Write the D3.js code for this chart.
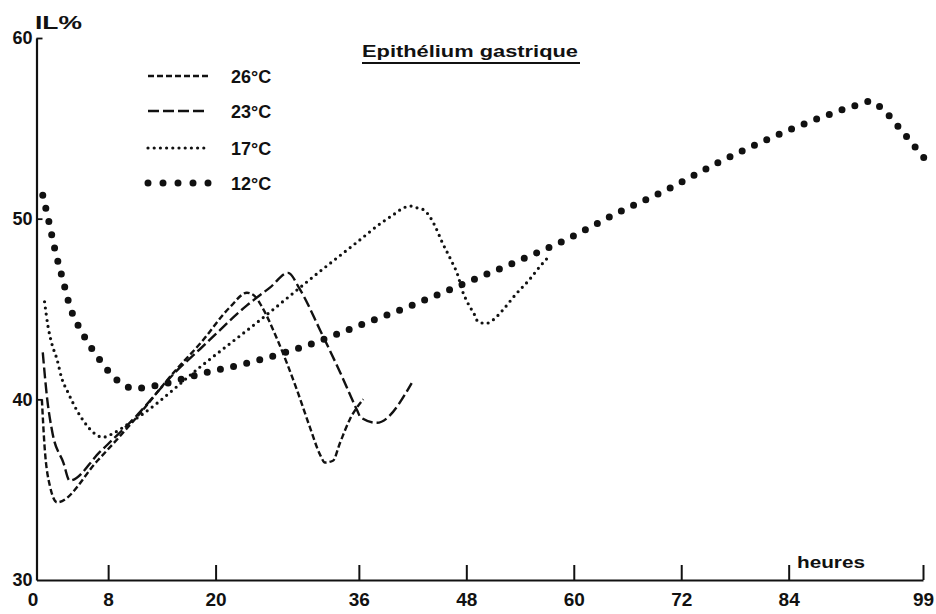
<!DOCTYPE html>
<html><head><meta charset="utf-8">
<script src="https://cdn.jsdelivr.net/npm/d3@7"></script>
<style>
html,body{margin:0;padding:0;background:#fff;}
svg{display:block;font-family:"Liberation Sans",Arial,sans-serif;}
</style></head>
<body>
<svg id="c" width="936" height="614"></svg>
<script>
// ---- data (heures, IL %) ----
const xTicks = [0, 8, 20, 36, 48, 60, 72, 84, 99];
const yTicks = [30, 40, 50, 60];
const seriesNames = ["26°C", "23°C", "17°C", "12°C"];

const h26 = [0.6,0.9,1.5,2.3,6.8,11.0,15.7,18.3,21.6,23.5,24.4,25.2,26.9,29.1,30.5,31.7,32.2,33.1,33.9,35.0,36.5];
const v26 = [40.0,37.4,35.2,34.3,36.6,38.9,41.7,43.1,45.1,45.9,45.7,45.1,43.3,40.5,38.5,36.9,36.5,36.6,37.6,38.9,40.0];

const h23 = [0.7,1.2,1.8,3.0,3.7,7.1,11.0,15.7,18.3,23.5,26.1,28.1,29.4,31.7,33.9,35.8,36.2,38.0,41.9];
const v23 = [42.6,40.0,38.1,36.5,35.5,37.1,39.0,41.6,42.8,45.2,46.2,47.0,46.1,43.8,41.5,39.4,39.0,38.7,40.9];

const h17 = [0.9,1.3,1.7,2.3,2.8,3.5,4.5,5.4,6.5,7.4,8.5,10.4,11.9,18.3,25.0,31.7,35.8,38.6,39.8,41.0,41.8,42.5,43.2,43.8,44.5,45.3,46.3,47.1,47.5,48.2,48.9,49.3,50.2,51.0,52.0,53.5,55.0,56.3,57.2];
const v17 = [45.4,44.0,43.1,42.2,41.2,40.4,39.4,38.7,38.1,37.9,38.1,38.7,39.2,41.8,44.4,47.1,48.7,49.8,50.2,50.6,50.7,50.6,50.5,50.2,49.6,48.7,47.7,46.8,46.1,45.3,44.7,44.3,44.2,44.4,44.9,45.8,46.6,47.4,47.9];

const h12 = [0.7,1.4,2.1,2.9,3.7,5.2,6.9,8.9,11.0,13.7,18.3,24.3,30.3,36.1,41.9,47.7,53.5,59.4,64.8,70.4,76.1,81.7,87.6,91.7,93.2,94.4,96.4,98.4,99.4];
const v12 = [51.3,49.8,48.2,46.7,45.2,43.6,42.3,41.1,40.6,40.8,41.4,42.1,43.0,44.1,45.2,46.4,47.6,48.9,50.3,51.6,53.1,54.4,55.6,56.3,56.5,56.1,55.0,53.8,53.2];

const seriesH = [h26, h23, h17, h12];
const seriesV = [v26, v23, v17, v12];

// ---- styles ----
const styles = [
  {w:2.4, dash:"6,3",    cap:"butt"},
  {w:2.4, dash:"11,4",   cap:"butt"},
  {w:3.2, dash:"0,6.2",  cap:"round"},
  {w:7,   dash:"0,13.5", cap:"round"}
];

const svg = d3.select("#c");
const x = d3.scaleLinear().domain([0, 99]).range([36.5, 923]);
const y = d3.scaleLinear().domain([30, 60]).range([580, 38]);

// axes
const xAxis = d3.axisBottom(x).tickValues(xTicks).tickSizeInner(-15).tickSizeOuter(0).tickPadding(13);
const gx = svg.append("g").attr("transform", `translate(0,${y(30)})`).call(xAxis);
gx.select(".domain").attr("stroke", "#111").attr("stroke-width", 2.2);
gx.selectAll(".tick line").attr("stroke", "#111").attr("stroke-width", 2);
gx.selectAll(".tick text").attr("fill", "#111").attr("font-size", 19).attr("font-weight", "bold")
  .attr("font-family", "Liberation Sans, Arial, sans-serif")
  .attr("dx", d => d === 0 ? -4 : 0);

const yAxis = d3.axisLeft(y).tickValues(yTicks).tickSizeInner(-6).tickSizeOuter(0).tickPadding(4);
const gy = svg.append("g").attr("transform", `translate(${x(0)},0)`).call(yAxis);
gy.select(".domain").attr("stroke", "#111").attr("stroke-width", 2.2);
gy.selectAll(".tick line").attr("stroke", "#111").attr("stroke-width", 1.8);
gy.selectAll(".tick text").attr("fill", "#111").attr("font-size", 18).attr("font-weight", "bold")
  .attr("font-family", "Liberation Sans, Arial, sans-serif");
gy.selectAll(".tick").filter(d => d === 30).select("line").remove();

// axis titles
svg.append("text").attr("x", 35).attr("y", 29).attr("font-size", 19).attr("font-weight", "bold")
  .attr("fill", "#111").attr("textLength", 47).attr("lengthAdjust", "spacingAndGlyphs").text("IL%");
svg.append("text").attr("x", 797).attr("y", 568).attr("font-size", 17).attr("font-weight", "bold")
  .attr("fill", "#111").attr("textLength", 68).attr("lengthAdjust", "spacingAndGlyphs").text("heures");

// title
svg.append("text").attr("x", 362).attr("y", 57).attr("font-size", 16.5).attr("font-weight", "bold")
  .attr("fill", "#111").attr("textLength", 216).attr("lengthAdjust", "spacingAndGlyphs").text("Epithélium gastrique");
svg.append("line").attr("x1", 362).attr("x2", 580).attr("y1", 63).attr("y2", 63)
  .attr("stroke", "#111").attr("stroke-width", 2);

// series
const line = d3.line().x(d => x(d[0])).y(d => y(d[1])).curve(d3.curveMonotoneX);
seriesH.forEach((hs, i) => {
  const pts = hs.map((h, j) => [h, seriesV[i][j]]);
  const s = styles[i];
  svg.append("path").datum(pts).attr("d", line).attr("fill", "none")
    .attr("stroke", "#111").attr("stroke-width", s.w).attr("stroke-dasharray", s.dash)
    .attr("stroke-linecap", s.cap).attr("stroke-linejoin", "round");
});

// legend
const legY = [76, 111, 148, 183];
seriesNames.forEach((name, i) => {
  const s = styles[i];
  svg.append("line").attr("x1", 148).attr("x2", i === 3 ? 210 : 208).attr("y1", legY[i]).attr("y2", legY[i])
    .attr("stroke", "#111").attr("stroke-width", s.w).attr("stroke-dasharray", i === 3 ? "0,15" : s.dash)
    .attr("stroke-linecap", s.cap);
  svg.append("text").attr("x", 231).attr("y", legY[i] + 6.5).attr("font-size", 18).attr("font-weight", "bold")
    .attr("fill", "#111").text(name);
});
</script>
</body></html>
